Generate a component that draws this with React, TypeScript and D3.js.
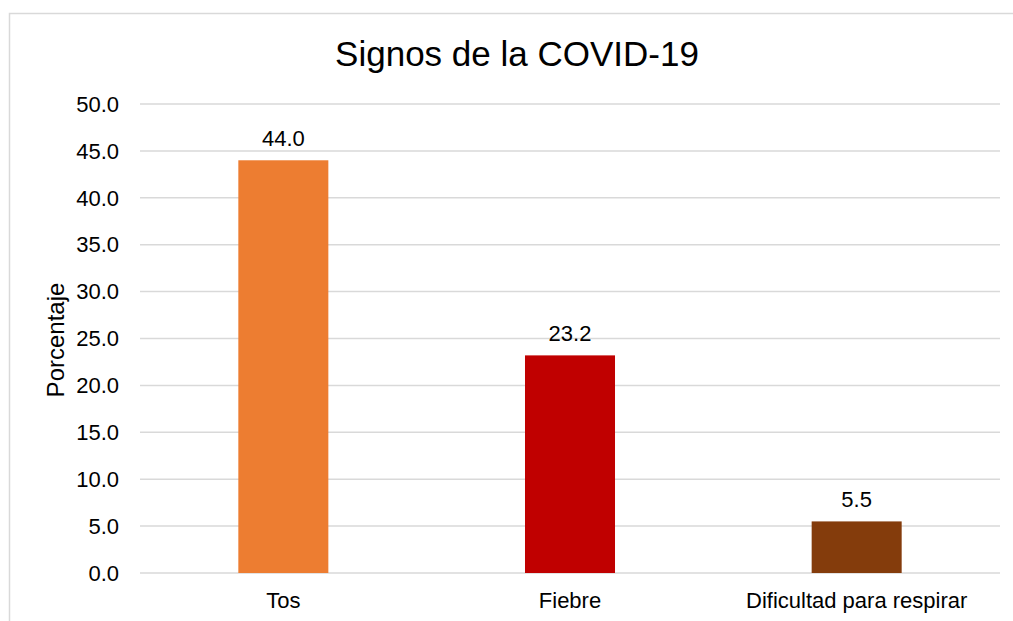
import React from "react";
import * as d3 from "d3";

const categories = ["Tos", "Fiebre", "Dificultad para respirar"];
const values = [44.0, 23.2, 5.5];
const colors = ["#ED7D31", "#C00000", "#843C0C"];
const yTicks = [0, 5, 10, 15, 20, 25, 30, 35, 40, 45, 50];
const title = "Signos de la COVID-19";
const yLabel = "Porcentaje";

export default function App() {
  const W = 1013, H = 621;
  const left = 140, right = 1000, top = 104, bottom = 573;
  const x = d3.scaleBand<string>().domain(categories).range([left, right]).paddingInner(0.686).paddingOuter(0.343);
  const y = d3.scaleLinear().domain([0, 50]).range([bottom, top]);
  const font = "Arial, 'Liberation Sans', sans-serif";
  return (
    <svg width={W} height={H} style={{ position: "absolute", left: 0, top: 0 }} fontFamily={font}>
      <rect x={0} y={0} width={W} height={H} fill="#fff" />
      <path d={`M9.5,${H} V13.5 H${W}`} fill="none" stroke="#d9d9d9" strokeWidth={1.5} />
      <text x={517} y={66} textAnchor="middle" fontSize={35} fill="#000">{title}</text>
      {yTicks.map((t) => (
        <g key={t}>
          <line x1={left} x2={right} y1={y(t)} y2={y(t)} stroke="#d9d9d9" strokeWidth={1.5} />
          <text x={119} y={y(t)} dy="0.35em" textAnchor="end" fontSize={22} fill="#000">{t.toFixed(1)}</text>
        </g>
      ))}
      <text transform={`translate(64,${340}) rotate(-90)`} textAnchor="middle" fontSize={24} fill="#000">{yLabel}</text>
      {categories.map((c, i) => (
        <g key={c}>
          <rect x={x(c)} y={y(values[i])} width={x.bandwidth()} height={bottom - y(values[i])} fill={colors[i]} />
          <text x={(x(c) as number) + x.bandwidth() / 2} y={y(values[i]) - 14} textAnchor="middle" fontSize={22} fill="#000">{values[i].toFixed(1)}</text>
          <text x={(x(c) as number) + x.bandwidth() / 2} y={608} textAnchor="middle" fontSize={22} fill="#000">{c}</text>
        </g>
      ))}
    </svg>
  );
}
